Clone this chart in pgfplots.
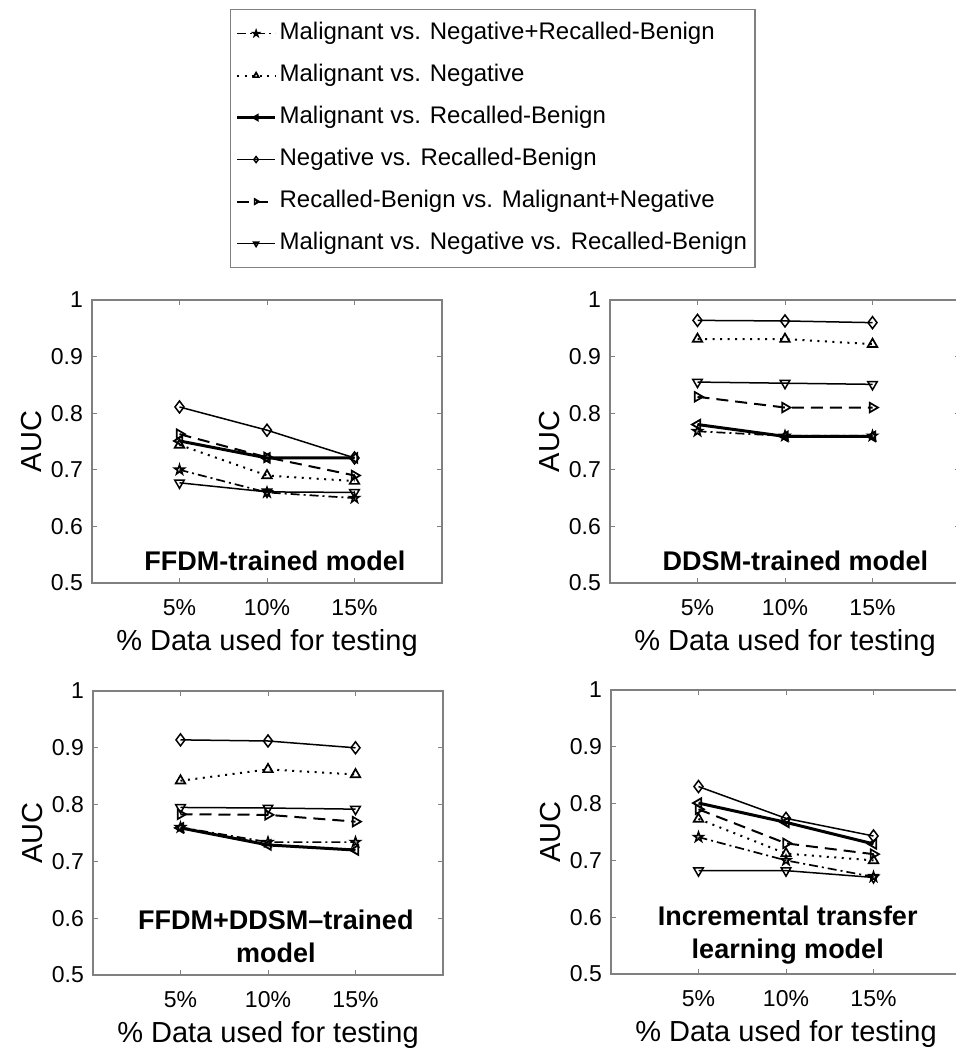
\documentclass[border=0pt]{standalone}
\usepackage{pgfplots}
\pgfplotsset{compat=1.18}
\usepackage{fontspec}
\setmainfont{Liberation Sans}

\pgfdeclareplotmark{pentagram}{%
  \pgfpathmoveto{\pgfpointpolar{90}{\pgfplotmarksize}}%
  \pgfpathlineto{\pgfpointpolar{126}{0.382\pgfplotmarksize}}%
  \pgfpathlineto{\pgfpointpolar{162}{\pgfplotmarksize}}%
  \pgfpathlineto{\pgfpointpolar{198}{0.382\pgfplotmarksize}}%
  \pgfpathlineto{\pgfpointpolar{234}{\pgfplotmarksize}}%
  \pgfpathlineto{\pgfpointpolar{270}{0.382\pgfplotmarksize}}%
  \pgfpathlineto{\pgfpointpolar{306}{\pgfplotmarksize}}%
  \pgfpathlineto{\pgfpointpolar{342}{0.382\pgfplotmarksize}}%
  \pgfpathlineto{\pgfpointpolar{18}{\pgfplotmarksize}}%
  \pgfpathlineto{\pgfpointpolar{54}{0.382\pgfplotmarksize}}%
  \pgfpathclose
  \pgfusepathqstroke
}

\definecolor{boxgray}{RGB}{128,128,128}

\pgfplotsset{
  sA/.style={black, line width=1.7pt, dash pattern=on 9pt off 4pt on 2pt off 4pt,
    mark=pentagram, mark size=5pt, mark options={solid, line width=1.6pt}},
  sB/.style={black, line width=2.0pt, dash pattern=on 2pt off 5.5pt,
    mark=triangle, mark size=5.5pt, mark options={solid, line width=1.7pt}},
  sC/.style={black, line width=3.0pt,
    mark=triangle, mark size=5.5pt, mark options={solid, rotate=90, line width=1.8pt}},
  sD/.style={black, line width=1.5pt,
    mark=diamond, mark size=6pt, mark options={solid, line width=1.5pt}},
  sE/.style={black, line width=2.0pt, dash pattern=on 12pt off 7pt,
    mark=triangle, mark size=5.5pt, mark options={solid, rotate=-90, line width=1.7pt}},
  sF/.style={black, line width=1.5pt,
    mark=triangle, mark size=5.5pt, mark options={solid, rotate=180, line width=1.5pt}},
  panel/.style={
    scale only axis, width=350pt,
    xmin=0, xmax=20, ymin=0.5, ymax=1,
    xtick={5,10,15}, xticklabels={5\%,10\%,15\%},
    ytick={0.5,0.6,0.7,0.8,0.9,1}, yticklabels={0.5,0.6,0.7,0.8,0.9,1},
    axis line style={boxgray, line width=1.1pt},
    tick style={boxgray, line width=0.8pt},
    major tick length=5pt,
    ticklabel style={font=\fontsize{23}{27}\selectfont, text=black},
    xticklabel style={anchor=center, yshift=-25pt},
    yticklabel style={anchor=east, inner sep=0pt, xshift=-9pt},
    xlabel={\% Data used for testing},
    ylabel={AUC},
    label style={font=\fontsize{29}{33}\selectfont},
    xlabel style={at={(axis description cs:0.5,0)}, anchor=center, yshift=-60pt},
    ylabel style={at={(axis description cs:-0.174,0.5)}, anchor=center},
    clip=false,
  },
}

\newcommand{\ttl}{\fontsize{27}{33}\selectfont\bfseries}

\begin{document}
\begin{tikzpicture}

% FFDM-trained
\begin{axis}[panel, height=283pt, at={(92pt,-583pt)}, anchor=south west,
  legend cell align=left,
  legend style={at={(0.3943,2.0283)}, anchor=north west, draw=boxgray, line width=1.2pt,
    inner xsep=5pt, inner ysep=10pt, row sep=14pt, column sep=0pt,
    font=\fontsize{24}{28}\selectfont,
    nodes={inner sep=3pt, text height=17pt, text depth=5pt}},
  legend image code/.code={\draw[mark repeat=2, mark phase=2, mark size=3pt]
    plot coordinates {(0pt,0pt) (19pt,0pt) (38pt,0pt)};},
]
\addplot[sA] coordinates {(5,0.70) (10,0.66) (15,0.65)};
\addplot[sB] coordinates {(5,0.744) (10,0.69) (15,0.68)};
\addplot[sC] coordinates {(5,0.751) (10,0.721) (15,0.721)};
\addplot[sD] coordinates {(5,0.811) (10,0.770) (15,0.721)};
\addplot[sE] coordinates {(5,0.763) (10,0.722) (15,0.69)};
\addplot[sF] coordinates {(5,0.677) (10,0.661) (15,0.660)};
\legend{Malignant vs. Negative+Recalled-Benign,
  Malignant vs. Negative,
  Malignant vs. Recalled-Benign,
  Negative vs. Recalled-Benign,
  Recalled-Benign vs. Malignant+Negative,
  Malignant vs. Negative vs. Recalled-Benign}
\node[font=\ttl] at (axis cs:10.45,0.539) {FFDM-trained model};
\end{axis}

% DDSM-trained
\begin{axis}[panel, height=283pt, at={(610pt,-583pt)}, anchor=south west]
\addplot[sA] coordinates {(5,0.768) (10,0.76) (15,0.76)};
\addplot[sB] coordinates {(5,0.931) (10,0.931) (15,0.922)};
\addplot[sC] coordinates {(5,0.780) (10,0.759) (15,0.759)};
\addplot[sD] coordinates {(5,0.964) (10,0.963) (15,0.960)};
\addplot[sE] coordinates {(5,0.829) (10,0.810) (15,0.810)};
\addplot[sF] coordinates {(5,0.855) (10,0.853) (15,0.851)};
\node[font=\ttl] at (axis cs:10.6,0.539) {DDSM-trained model};
\end{axis}

% FFDM+DDSM-trained
\begin{axis}[panel, height=284pt, at={(93pt,-975pt)}, anchor=south west]
\addplot[sA] coordinates {(5,0.760) (10,0.734) (15,0.734)};
\addplot[sB] coordinates {(5,0.842) (10,0.862) (15,0.853)};
\addplot[sC] coordinates {(5,0.759) (10,0.729) (15,0.720)};
\addplot[sD] coordinates {(5,0.914) (10,0.912) (15,0.900)};
\addplot[sE] coordinates {(5,0.783) (10,0.782) (15,0.770)};
\addplot[sF] coordinates {(5,0.795) (10,0.794) (15,0.792)};
\node[font=\ttl, align=center] at (axis cs:10.45,0.568) {FFDM+DDSM–trained\\model};
\end{axis}

% Incremental transfer learning
\begin{axis}[panel, height=284pt, at={(611pt,-974pt)}, anchor=south west]
\addplot[sA] coordinates {(5,0.741) (10,0.700) (15,0.671)};
\addplot[sB] coordinates {(5,0.773) (10,0.712) (15,0.700)};
\addplot[sC] coordinates {(5,0.801) (10,0.767) (15,0.729)};
\addplot[sD] coordinates {(5,0.830) (10,0.774) (15,0.743)};
\addplot[sE] coordinates {(5,0.790) (10,0.730) (15,0.711)};
\addplot[sF] coordinates {(5,0.682) (10,0.682) (15,0.670)};
\node[font=\ttl, align=center] at (axis cs:10.1,0.568) {Incremental transfer\\learning model};
\end{axis}

\pgfresetboundingbox
\path[use as bounding box] (0pt,0pt) rectangle (956pt,-1050pt);
\end{tikzpicture}
\end{document}
